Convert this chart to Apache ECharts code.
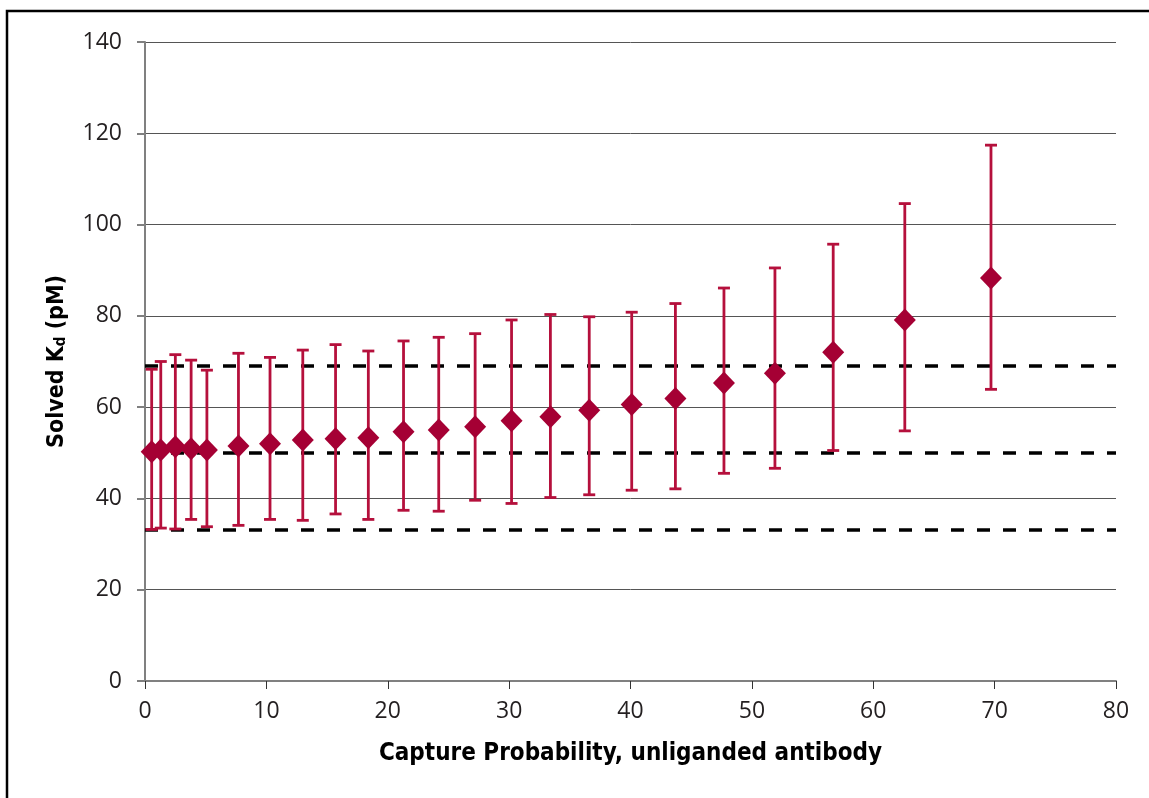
<!DOCTYPE html>
<html>
<head>
<meta charset="utf-8">
<script src="https://cdn.jsdelivr.net/npm/echarts@6/dist/echarts.min.js"></script>
<style>
  html, body { margin: 0; padding: 0; background: #fff; }
  #chart { width: 1149px; height: 798px; }
</style>
</head>
<body>
<div id="chart"></div>
<script>
// capture probability (x), solved Kd (y) and error bar bounds
const captureProb = [0.55, 1.3, 2.5, 3.8, 5.1, 7.7, 10.3, 13.0, 15.7, 18.4, 21.3, 24.2, 27.2, 30.2, 33.4, 36.6, 40.1, 43.7, 47.7, 51.9, 56.7, 62.6, 69.7];
const kdValues = [50.2, 50.6, 51.3, 50.9, 50.6, 51.5, 52.0, 52.8, 53.1, 53.3, 54.6, 55.0, 55.7, 57.0, 57.9, 59.3, 60.6, 61.9, 65.3, 67.4, 72.0, 79.1, 88.3];
const kdUpper = [68.3, 70.0, 71.5, 70.3, 68.1, 71.8, 70.9, 72.5, 73.7, 72.3, 74.5, 75.3, 76.1, 79.1, 80.3, 79.8, 80.8, 82.7, 86.1, 90.5, 95.7, 104.6, 117.4];
const kdLower = [33.2, 33.5, 33.3, 35.4, 33.8, 34.1, 35.4, 35.2, 36.6, 35.4, 37.4, 37.2, 39.6, 38.9, 40.2, 40.8, 41.8, 42.1, 45.5, 46.6, 50.5, 54.8, 63.9];
const refLines = [69, 50, 33.2];

const chart = echarts.init(document.getElementById('chart'));

const points = captureProb.map((x, i) => [x, kdValues[i]]);
const bars = captureProb.map((x, i) => [x, kdLower[i], kdUpper[i]]);

const option = {
  animation: false,
  graphic: [{
    type: 'rect',
    shape: { x: 7, y: 11, width: 1170, height: 820 },
    style: { fill: 'none', stroke: '#000', lineWidth: 2.5 },
    silent: true
  }],
  grid: { left: 145, right: 33, top: 42, bottom: 117 },
  xAxis: {
    type: 'value',
    min: 0, max: 80, interval: 10,
    name: 'Capture Probability, unliganded antibody',
    nameLocation: 'middle',
    nameGap: 61,
    nameTextStyle: { fontFamily: 'DejaVu Sans Condensed', fontWeight: 'bold', fontSize: 24, color: '#000' },
    axisLine: { lineStyle: { color: '#808080', width: 2 } },
    axisTick: { length: 8, lineStyle: { color: '#333', width: 1 } },
    axisLabel: { margin: 19, fontFamily: 'Open Sans', fontSize: 23, color: '#231f20' },
    splitLine: { show: false }
  },
  yAxis: {
    type: 'value',
    min: 0, max: 140, interval: 20,
    name: '{b|Solved K}{s|d}{b| (pM)}',
    nameLocation: 'middle',
    nameRotate: 90,
    nameGap: 76,
    nameTextStyle: {
      rich: {
        b: { fontFamily: 'DejaVu Sans Condensed', fontWeight: 'bold', fontSize: 23, color: '#000' },
        s: { fontFamily: 'DejaVu Sans Condensed', fontWeight: 'bold', fontSize: 15, color: '#000', verticalAlign: 'bottom', padding: [8, 0, 0, 0] }
      }
    },
    axisLine: { show: true, lineStyle: { color: '#808080', width: 2 } },
    axisTick: { show: true, length: 8, lineStyle: { color: '#808080', width: 2 } },
    axisLabel: { margin: 23, fontFamily: 'Open Sans', fontSize: 23, color: '#231f20' },
    splitLine: { lineStyle: { color: '#555', width: 1 } }
  },
  series: [
    {
      type: 'custom',
      data: bars,
      z: 2,
      renderItem: function (params, api) {
        const x = api.value(0);
        const lo = api.coord([x, api.value(1)]);
        const hi = api.coord([x, api.value(2)]);
        const cap = 6;
        const style = { stroke: '#b5103c', lineWidth: 2.8 };
        return {
          type: 'group',
          children: [
            { type: 'line', shape: { x1: lo[0], y1: lo[1], x2: hi[0], y2: hi[1] }, style: style },
            { type: 'line', shape: { x1: lo[0] - cap, y1: lo[1], x2: lo[0] + cap, y2: lo[1] }, style: style },
            { type: 'line', shape: { x1: hi[0] - cap, y1: hi[1], x2: hi[0] + cap, y2: hi[1] }, style: style }
          ]
        };
      }
    },
    {
      type: 'scatter',
      data: points,
      symbol: 'diamond',
      symbolSize: [22, 23],
      z: 3,
      itemStyle: { color: '#a50034', opacity: 1 },
      markLine: {
        silent: true,
        symbol: 'none',
        label: { show: false },
        lineStyle: { color: '#000', width: 3.5, type: [13, 13] },
        data: refLines.map(v => ({ yAxis: v })),
        z: 1
      }
    }
  ]
};

chart.setOption(option);
window.addEventListener('resize', () => chart.resize());
</script>
</body>
</html>
